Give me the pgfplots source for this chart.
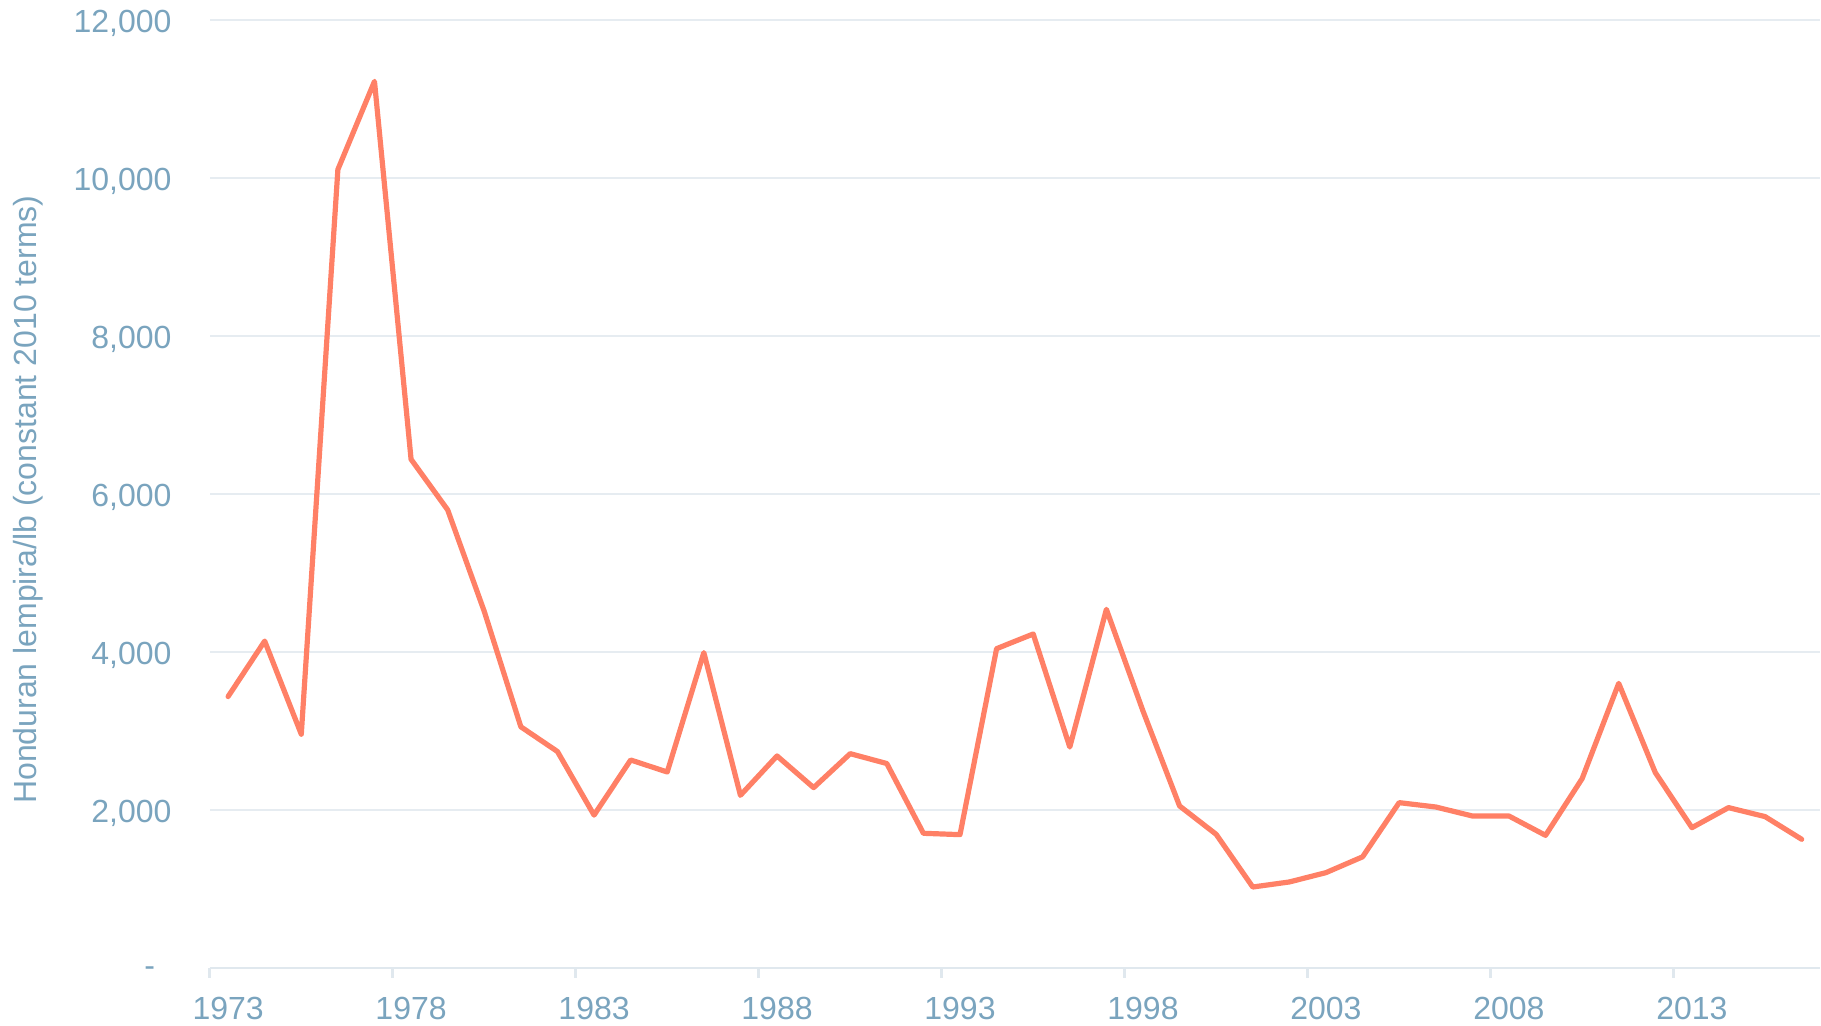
\documentclass[border=0pt]{standalone}
\usepackage{fontspec}
\setmainfont{Liberation Sans}
\usepackage{pgfplots}
\pgfplotsset{compat=1.18}
\definecolor{tickcol}{RGB}{122,164,190}
\definecolor{gridcol}{RGB}{230,236,241}
\definecolor{axcol}{RGB}{224,232,238}
\definecolor{linecol}{RGB}{255,128,102}
\begin{document}
\begin{tikzpicture}
\path[use as bounding box] (-104.9pt,-29pt) rectangle (805.6pt,484pt);
\begin{axis}[
  at={(0,0)}, anchor=south west,
  scale only axis,
  width=805.1pt, height=474pt,
  xmin=1973, xmax=2017, ymin=0, ymax=12000,
  axis x line*=bottom, axis y line*=left,
  y axis line style={draw=none},
  x axis line style={color=axcol, line width=1.3pt},
  xtick={1973,1978,1983,1988,1993,1998,2003,2008,2013},
  xticklabels={1973,1978,1983,1988,1993,1998,2003,2008,2013},
  ytick={0,2000,4000,6000,8000,10000,12000},
  yticklabels={{\makebox[13.5pt][l]{\raisebox{-2.5pt}{-}}},{2,000},{4,000},{6,000},{8,000},{10,000},{12,000}},
  xtick align=outside,
  major tick length=5pt,
  x tick style={color=axcol, line width=1.3pt},
  y tick style={draw=none},
  ymajorgrids,
  grid style={color=gridcol, line width=1pt},
  xticklabel style={font=\fontsize{16pt}{19pt}\selectfont, text=tickcol, anchor=north, inner sep=0pt, yshift=-9.2pt, xshift=9.15pt},
  yticklabel style={font=\fontsize{16pt}{19pt}\selectfont, text=tickcol, anchor=east, inner sep=0pt, xshift=-19pt, yshift=-1.7pt},
  ylabel={Honduran lempira/lb (constant 2010 terms)},
  every axis y label/.style={at={(axis description cs:-0.1129,0.494)}, rotate=90, anchor=center, font=\fontsize{16pt}{19pt}\selectfont, text=tickcol},
  clip=false,
]
\addplot[color=linecol, line width=2.6pt, line join=round, line cap=round, mark=none] coordinates {
(1973.5,3436) (1974.5,4138) (1975.5,2959) (1976.5,10107) (1977.5,11223)
(1978.5,6439) (1979.5,5799) (1980.5,4514) (1981.5,3053) (1982.5,2740)
(1983.5,1935) (1984.5,2633) (1985.5,2481) (1986.5,3992) (1987.5,2186)
(1988.5,2684) (1989.5,2283) (1990.5,2713) (1991.5,2588) (1992.5,1705)
(1993.5,1688) (1994.5,4042) (1995.5,4228) (1996.5,2797) (1997.5,4540)
(1998.5,3253) (1999.5,2051) (2000.5,1692) (2001.5,1025) (2002.5,1089)
(2003.5,1207) (2004.5,1407) (2005.5,2093) (2006.5,2038) (2007.5,1924)
(2008.5,1924) (2009.5,1679) (2010.5,2397) (2011.5,3603) (2012.5,2473)
(2013.5,1776) (2014.5,2030) (2015.5,1916) (2016.5,1629)
};
\end{axis}
\end{tikzpicture}
\end{document}
